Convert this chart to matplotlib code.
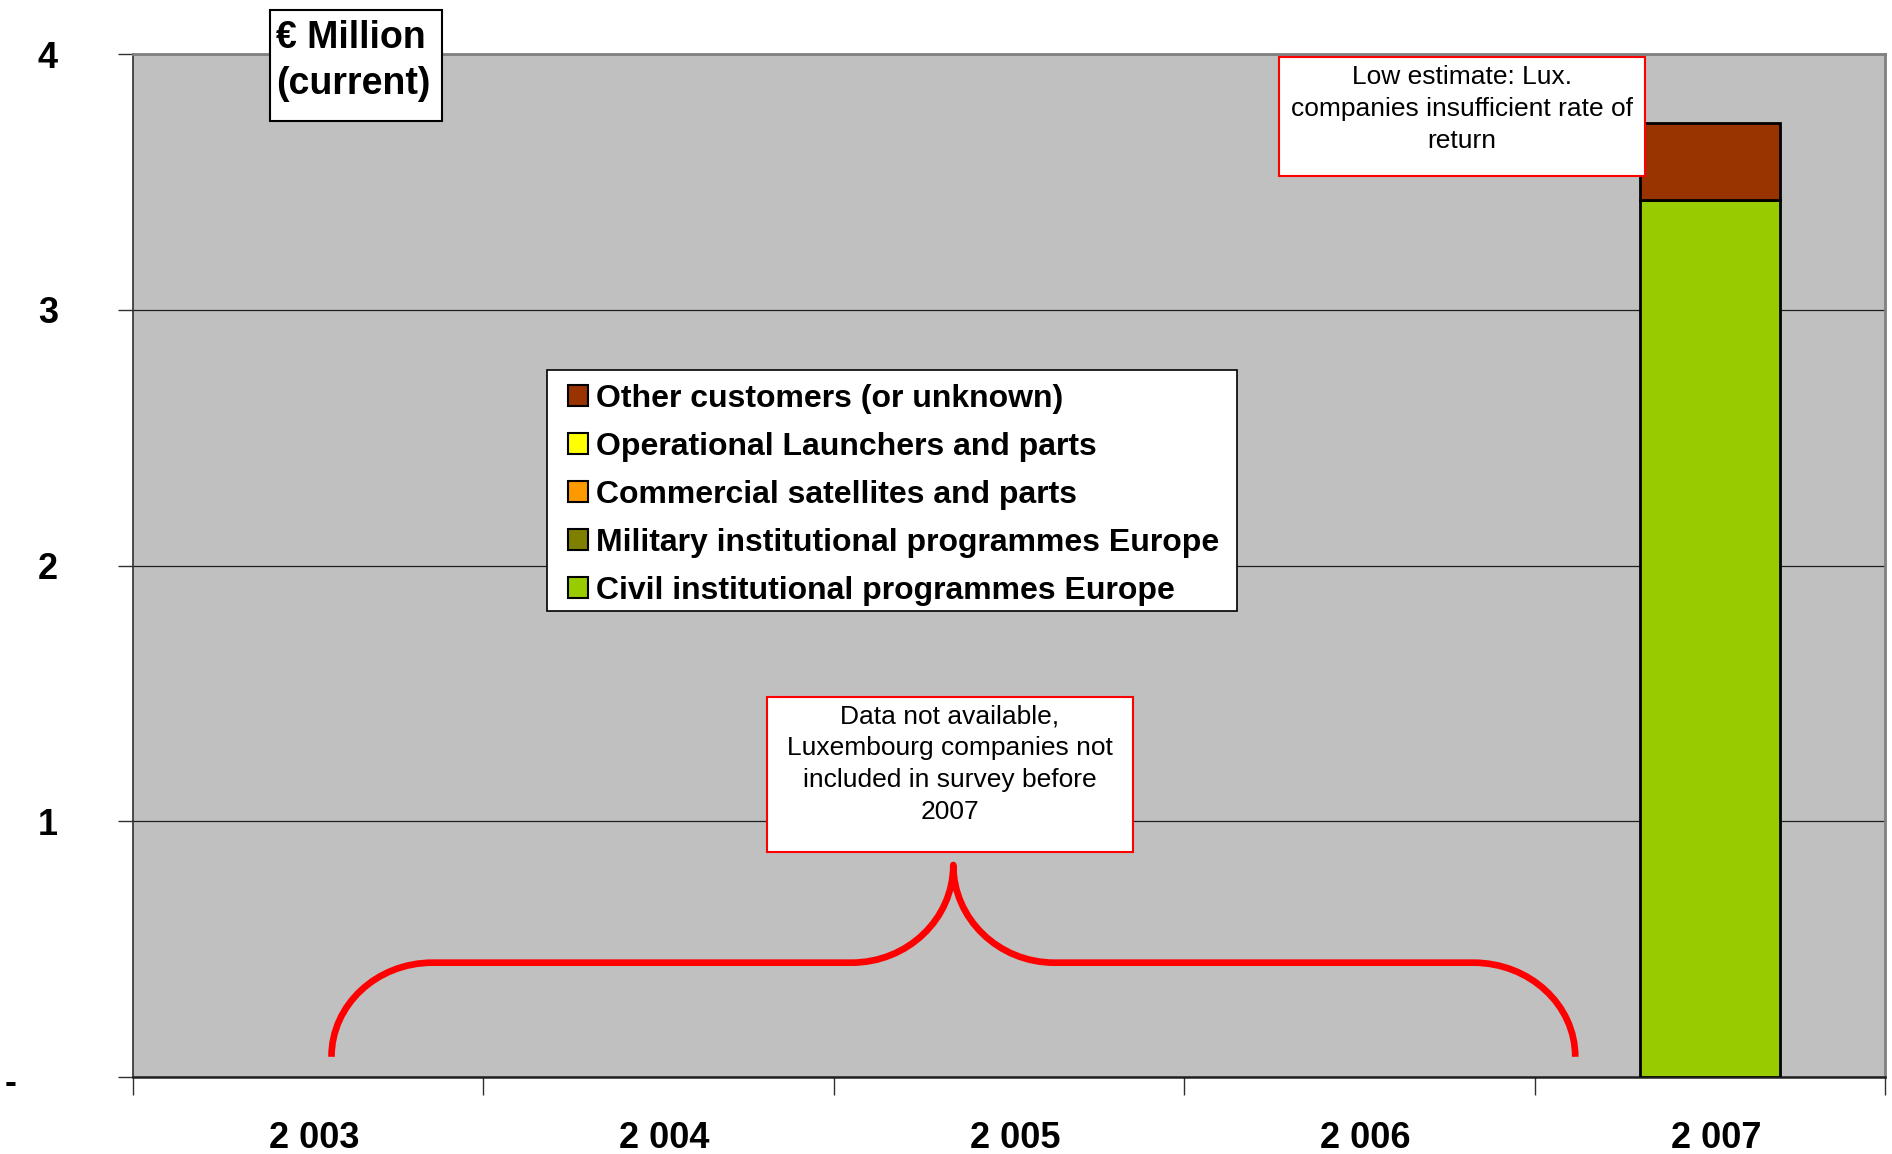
import matplotlib
matplotlib.use('Agg')
import matplotlib.pyplot as plt
from matplotlib.patches import Rectangle, Patch, PathPatch
from matplotlib.path import Path
import matplotlib.transforms as mtransforms
import numpy as np

plt.rcParams['font.family'] = ['Liberation Sans', 'DejaVu Sans']

# ---------------- data ----------------
years = ['2 003', '2 004', '2 005', '2 006', '2 007']
civil = [np.nan, np.nan, np.nan, np.nan, 3.43]
military = [np.nan, np.nan, np.nan, np.nan, 0.0]
commercial = [np.nan, np.nan, np.nan, np.nan, 0.0]
operational = [np.nan, np.nan, np.nan, np.nan, 0.0]
other = [np.nan, np.nan, np.nan, np.nan, 0.30]

series_names = ['Civil institutional programmes Europe',
                'Military institutional programmes Europe',
                'Commercial satellites and parts',
                'Operational Launchers and parts',
                'Other customers (or unknown)']
series_vals = [civil, military, commercial, operational, other]
series_colors = ['#99CC00', '#808000', '#FF9900', '#FFFF00', '#993300']

ytick_vals = [0, 1, 2, 3, 4]
ytick_labels = ['-', '1', '2', '3', '4']

unit_label = '€ Million\n(current)'
note_2007 = 'Low estimate: Lux.\ncompanies insufficient rate of\nreturn'
note_missing = 'Data not available,\nLuxembourg companies not\nincluded in survey before\n2007'

# ---------------- figure ----------------
W, H = 1892, 1154
fig = plt.figure(figsize=(W / 100, H / 100), dpi=100)
fig.patch.set_facecolor('white')


def fx(px):
    return px / W


def fy(py):
    return 1 - py / H


ax = fig.add_axes([fx(133), fy(1077), fx(1885) - fx(133), fy(54) - fy(1077)])
ax.set_facecolor('#C0C0C0')

x = np.arange(len(years))
bottom = np.zeros(len(years))
for vals, color, name in zip(series_vals, series_colors, series_names):
    v = np.array(vals, dtype=float)
    ax.bar(x, v, 0.4, bottom=bottom, color=color, edgecolor='black',
           linewidth=2, zorder=3, label=name)
    bottom = bottom + np.nan_to_num(v)

ax.set_xlim(-0.5, len(years) - 0.5)
ax.set_ylim(0, 4)

# grid
ax.set_axisbelow(True)
ax.yaxis.grid(True, color='#202020', linewidth=0.9)

# spines
for s in ['top', 'right']:
    ax.spines[s].set_color('#808080')
    ax.spines[s].set_linewidth(2)
ax.spines['left'].set_color('#303030')
ax.spines['left'].set_linewidth(1.2)
ax.spines['bottom'].set_color('#202020')
ax.spines['bottom'].set_linewidth(1.8)

# x ticks: boundaries (major), labels at centers (minor)
ax.set_xticks(np.arange(-0.5, len(years), 1.0))
ax.set_xticklabels([])
ax.tick_params(axis='x', which='major', length=13, width=1, color='#303030', direction='out')
ax.set_xticks(x, minor=True)
ax.set_xticklabels(years, minor=True, fontsize=26, fontweight='bold')
ax.tick_params(axis='x', which='minor', length=0, pad=32)
shift = mtransforms.ScaledTranslation(0.06, 0, fig.dpi_scale_trans)
for lab in ax.get_xticklabels(minor=True):
    lab.set_transform(lab.get_transform() + shift)

# y ticks
ax.set_yticks(ytick_vals)
ax.set_yticklabels([])
ax.tick_params(axis='y', length=11, width=1, color='#303030', direction='out')
btf = mtransforms.blended_transform_factory(fig.transFigure, ax.transData)
for v, lab in zip(ytick_vals, ytick_labels):
    xp = 11 if lab == '-' else 48
    dy = -0.07 if lab == '-' else -0.04
    tr = btf + mtransforms.ScaledTranslation(0, dy, fig.dpi_scale_trans)
    ax.text(fx(xp), v, lab, transform=tr, ha='center', va='center',
            fontsize=26, fontweight='bold', clip_on=False)

# brace (annotation shape, data coords)
x0, x1, xm0, xt, xm1, x2, x3 = 0.0665, 0.355, 1.550, 1.841, 2.130, 3.325, 3.616
yb, yh, yt = 0.079, 0.447, 0.829
k = 0.5523
verts = [
    (x0, yb),
    (x0, yb + k * (yh - yb)), (x1 - k * (x1 - x0), yh), (x1, yh),
    (xm0, yh),
    (xm0 + k * (xt - xm0), yh), (xt, yt - k * (yt - yh)), (xt, yt),
    (xt, yt - k * (yt - yh)), (xm1 - k * (xm1 - xt), yh), (xm1, yh),
    (x2, yh),
    (x2 + k * (x3 - x2), yh), (x3, yb + k * (yh - yb)), (x3, yb),
]
codes = [Path.MOVETO,
         Path.CURVE4, Path.CURVE4, Path.CURVE4,
         Path.LINETO,
         Path.CURVE4, Path.CURVE4, Path.CURVE4,
         Path.CURVE4, Path.CURVE4, Path.CURVE4,
         Path.LINETO,
         Path.CURVE4, Path.CURVE4, Path.CURVE4]
brace = PathPatch(Path(verts, codes), facecolor='none', edgecolor='#FF0000',
                  linewidth=4.8, capstyle='butt', joinstyle='round', zorder=4)
ax.add_patch(brace)


def fig_box(l, t, r, b, ec, lw, z=2):
    rect = Rectangle((fx(l), fy(b)), fx(r) - fx(l), fy(t) - fy(b),
                     transform=fig.transFigure, facecolor='white',
                     edgecolor=ec, linewidth=lw, zorder=z)
    fig.add_artist(rect)


# unit box
fig_box(270, 10, 442, 121, 'black', 1.5)
fig.text(fx(276), fy(61), unit_label, ha='left', va='center', fontsize=27,
         fontweight='bold', linespacing=1.36, zorder=3)

# note boxes
fig_box(1279, 57, 1645, 176, '#FF0000', 1.5)
fig.text(fx(1462), fy(109), note_2007, ha='center', va='center', fontsize=19,
         linespacing=1.41, zorder=3)
fig_box(767, 697, 1133, 852, '#FF0000', 1.5)
fig.text(fx(950), fy(764), note_missing, ha='center', va='center', fontsize=19,
         linespacing=1.41, zorder=3)

# legend
fig_box(547, 370, 1237, 611, 'black', 1.2)
handles = [Patch(facecolor=c, edgecolor='black', linewidth=1.5)
           for c in series_colors][::-1]
labels = series_names[::-1]
leg = fig.legend(handles, labels, loc='upper left',
                 bbox_to_anchor=(fx(568), fy(384)), borderaxespad=0, borderpad=0,
                 frameon=False, prop={'size': 23, 'weight': 'bold'},
                 handlelength=0.63, handleheight=0.63, handletextpad=0.25,
                 labelspacing=0.56)
leg.set_zorder(3)

fig.savefig('out.png', dpi=100, facecolor='white')
